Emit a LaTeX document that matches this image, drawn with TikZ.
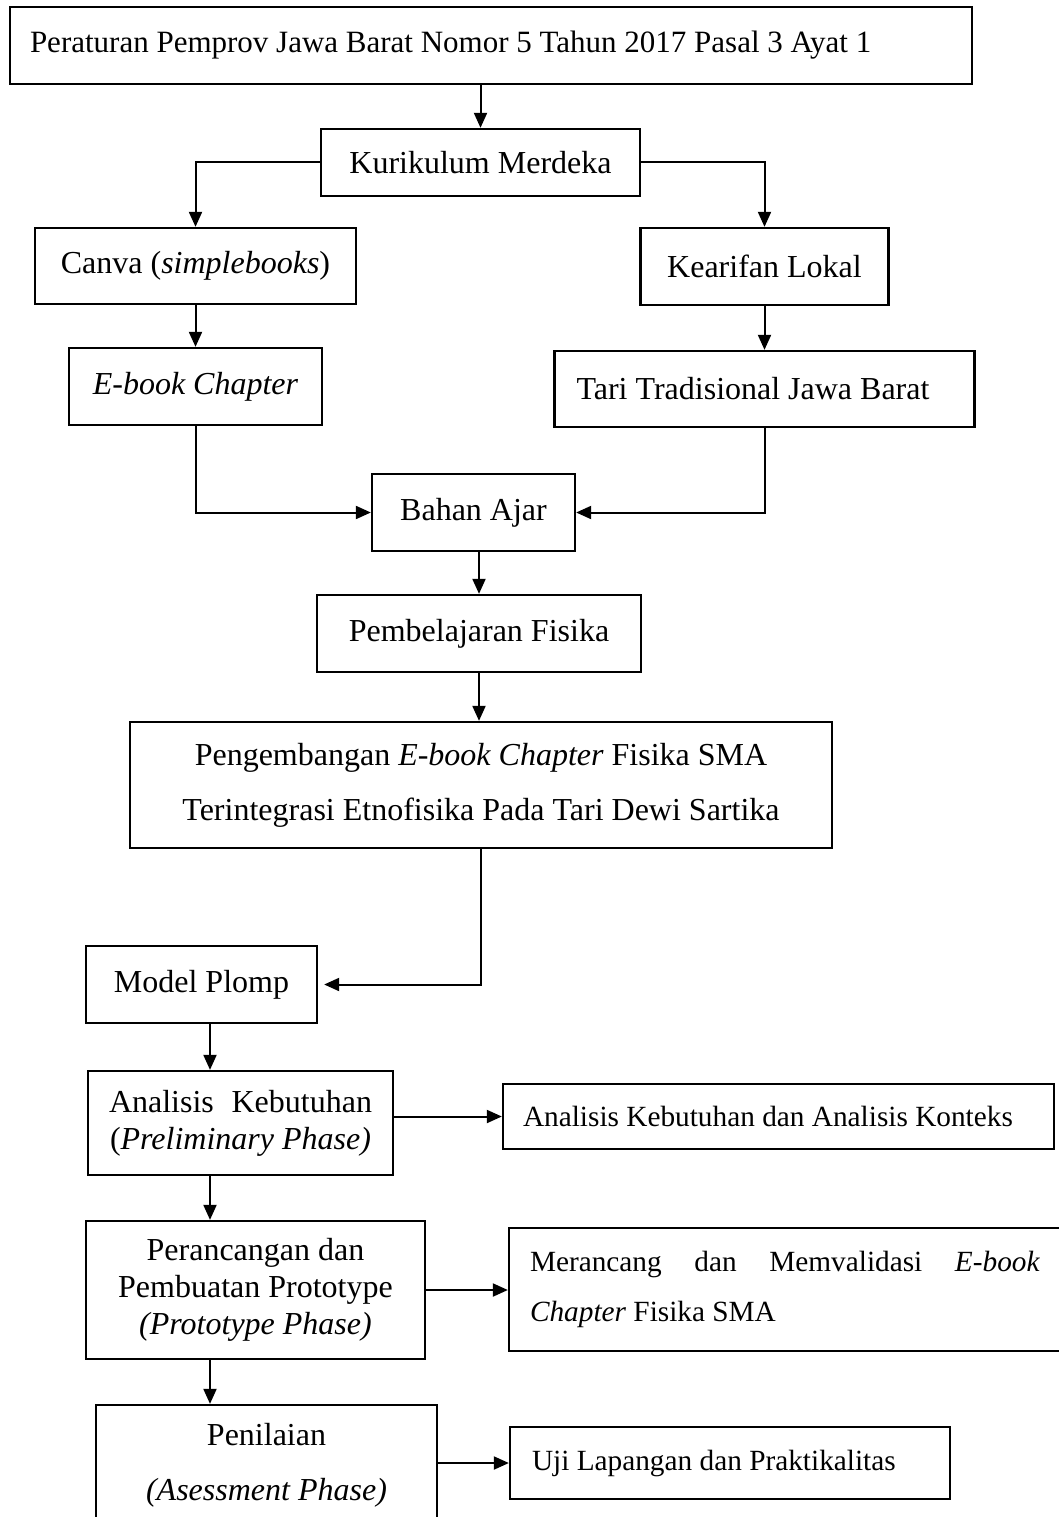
\documentclass[tikz,border=0pt]{standalone}
\usepackage{fontspec}
\setmainfont{Liberation Serif}
\usetikzlibrary{arrows.meta}

\begin{document}
\begin{tikzpicture}[x=1pt, y=-1pt, font=\fontsize{32}{37}\selectfont,
    box/.style={draw, line width=2.3pt, inner sep=0pt, align=flush center},
    lbox/.style={draw, line width=2.3pt, inner ysep=0pt, align=flush left},
    small/.style={font=\fontsize{29.3}{34}\selectfont},
    arr/.style={line width=2pt, -{Triangle[length=15pt,width=13pt]}}]

    \useasboundingbox (0,0) rectangle (1058,1517);

    \node[lbox, font=\fontsize{31}{36}\selectfont, inner xsep=20pt, text width=922pt, minimum height=77pt] (peraturan) at (491,45.5) {Peraturan Pemprov Jawa Barat Nomor 5 Tahun 2017 Pasal 3 Ayat 1};
    \node[box, minimum width=319pt, minimum height=67pt] (kurikulum) at (480.5,162.5) {Kurikulum Merdeka};
    \node[box, minimum width=321pt, minimum height=76pt] (canva) at (195.5,266) {Canva (\textit{simplebooks})};
    \node[box, minimum width=248pt, minimum height=77pt] (kearifan) at (764.5,266.5) {Kearifan Lokal};
    \node[box, minimum width=253pt, minimum height=77pt] (ebook) at (195.5,386.5) {\textit{E-book Chapter}};
    \node[lbox, inner xsep=22pt, text width=376pt, minimum height=76pt] (tari) at (764.5,389) {Tari Tradisional Jawa Barat};
    \node[box, minimum width=203pt, minimum height=77pt] (bahan) at (473.5,512.5) {Bahan Ajar};
    \node[box, minimum width=324pt, minimum height=77pt] (pembelajaran) at (479,633.5) {Pembelajaran Fisika};
    \node[box, minimum width=702pt, minimum height=126pt] (pengembangan) at (481,785) {Pengembangan \textit{E-book Chapter} Fisika SMA\\[18pt] Terintegrasi Etnofisika Pada Tari Dewi Sartika};
    \node[box, minimum width=231pt, minimum height=77pt] (plomp) at (201.5,984.5) {Model Plomp};
    \node[box, minimum width=305pt, minimum height=104pt] (analisis) at (240.5,1123) {\makebox[263pt][s]{Analisis Kebutuhan}\\ (\textit{Preliminary Phase)}};
    \node[lbox, small, inner xsep=20pt, text width=511pt, minimum height=65pt] (konteks) at (778.5,1116.5) {Analisis Kebutuhan dan Analisis Konteks};
    \node[box, minimum width=339pt, minimum height=138pt] (perancangan) at (255.5,1290) {Perancangan dan\\ Pembuatan Prototype\\ \textit{(Prototype Phase)}};
    \node[lbox, small, inner xsep=21pt, text width=524pt, minimum height=123pt] (merancang) at (792,1289.5) {\makebox[510pt][s]{Merancang dan Memvalidasi \textit{E-book}}\\[16pt] \textit{Chapter} Fisika SMA};
    \node[box, minimum width=341pt, minimum height=120pt] (penilaian) at (266.5,1465) {Penilaian\\[18pt] \textit{(Asessment Phase)}};
    \node[lbox, small, inner xsep=22pt, text width=396pt, minimum height=72pt] (uji) at (730,1463) {Uji Lapangan dan Praktikalitas};

    \coordinate (spine) at (210,0);

    \draw[arr] (kurikulum |- peraturan.south) -- (kurikulum.north);
    \draw[arr] (kurikulum.west) -| (canva.north);
    \draw[arr] (kurikulum.east) -| (kearifan.north);
    \draw[arr] (canva.south) -- (ebook.north);
    \draw[arr] (kearifan.south) -- (tari.north);
    \draw[arr] (ebook.south) |- (bahan.west);
    \draw[arr] (tari.south) |- (bahan.east);
    \draw[arr] (pembelajaran |- bahan.south) -- (pembelajaran.north);
    \draw[arr] (pembelajaran.south) -- (pembelajaran.south |- pengembangan.north);
    \draw[arr, shorten >=6pt] (pengembangan.south) |- (plomp.east);
    \draw[arr] (spine |- plomp.south) -- (spine |- analisis.north);
    \draw[arr] (analisis.east |- konteks.west) -- (konteks.west);
    \draw[arr] (spine |- analisis.south) -- (spine |- perancangan.north);
    \draw[arr] (perancangan.east) -- (merancang.west |- perancangan.east);
    \draw[arr] (spine |- perancangan.south) -- (spine |- penilaian.north);
    \draw[arr] (penilaian.east |- uji.west) -- (uji.west);
\end{tikzpicture}
\end{document}
